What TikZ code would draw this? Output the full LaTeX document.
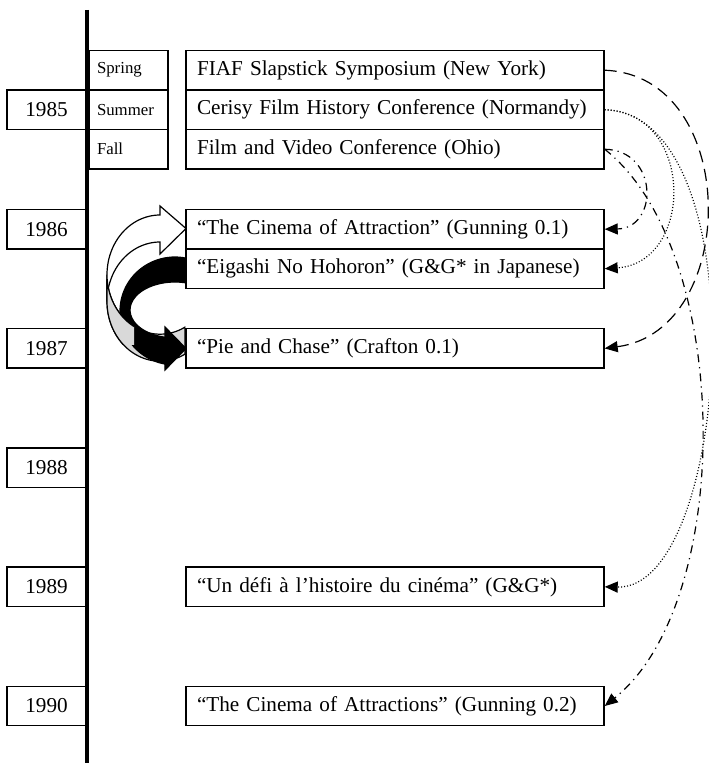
\documentclass[tikz,border=0pt]{standalone}
\usepackage{fontspec}
\setmainfont{Liberation Serif}
\usetikzlibrary{arrows.meta}

\begin{document}
\begin{tikzpicture}[x=0.5pt, y=-0.5pt, >={Triangle[length=6.5pt,width=5.5pt]},
    yearbox/.style={draw, line width=0.7pt, minimum width=39.5pt, minimum height=19.75pt, inner sep=0pt, font=\fontsize{10.6}{12}\selectfont},
    seasonbox/.style={draw, line width=0.7pt, minimum height=19.75pt, inner xsep=4pt, inner ysep=0pt, text width=31.5pt, align=left, font=\fontsize{8.4}{10}\selectfont},
    eventbox/.style={draw, line width=0.7pt, minimum height=19.75pt, inner xsep=5.5pt, inner ysep=0pt, text width=198pt, align=left, font=\fontsize{10.6}{12}\selectfont},
    linkdash/.style={line width=0.6pt, ->, dash pattern=on 6pt off 3.5pt},
    linkdot/.style={line width=0.6pt, ->, dash pattern=on 0.5pt off 1pt},
    linkdashdot/.style={line width=0.6pt, ->, dash pattern=on 4pt off 2.5pt on 0.6pt off 2.5pt}]
    \useasboundingbox (0,0) rectangle (708,763);

    % Time axis
    \draw[line width=2pt] (87,10) -- (87,763);

    % Years
    \node[yearbox] (y85) at (46.5,109.75) {1985};
    \node[yearbox] (y86) at (46.5,229.2) {1986};
    \node[yearbox] (y87) at (46.5,348.4) {1987};
    \node[yearbox] (y88) at (46.5,467.6) {1988};
    \node[yearbox] (y89) at (46.5,586.8) {1989};
    \node[yearbox] (y90) at (46.5,706) {1990};

    % Seasons of 1985
    \node[seasonbox] (spring) at (128.5,70.25) {Spring};
    \node[seasonbox] (summer) at (128.5,109.75) {Summer};
    \node[seasonbox] (fall) at (128.5,149.25) {Fall};

    % Curved arrows, back side of the white one
    \filldraw[fill=gray!30, line width=0.6pt]
        plot[domain=180:298, smooth, variable=\t] ({160+53*cos(\t)},{274.6-59.6*sin(\t)})
        -- plot[domain=298:180, smooth, variable=\t] ({160+53*cos(\t)},{301.6-59.6*sin(\t)}) -- cycle;
    % white front
    \filldraw[fill=white, line width=0.6pt]
        plot[domain=180:90, smooth, variable=\t] ({160+53*cos(\t)},{274.6-59.6*sin(\t)})
        -- (160,206) -- (186,228.5) -- (160,254)
        -- plot[domain=90:180, smooth, variable=\t] ({160+53*cos(\t)},{301.6-59.6*sin(\t)}) -- cycle;
    % black arrow
    \filldraw[fill=black, line width=0.6pt]
        plot[domain=78.46:259.5, smooth, variable=\t] ({175+55*cos(\t)},{311-54*sin(\t)})
        -- (165,370) -- (186,348.5) -- (165,327)
        -- plot[domain=257.16:75.9, smooth, variable=\t] ({175+45*cos(\t)},{310-28*sin(\t)}) -- cycle;
    \begin{scope}
        \clip (100,280) rectangle (134,345);
        \filldraw[fill=gray!30, line width=0.6pt]
            plot[domain=180:298, smooth, variable=\t] ({160+53*cos(\t)},{274.6-59.6*sin(\t)})
            -- plot[domain=298:180, smooth, variable=\t] ({160+53*cos(\t)},{301.6-59.6*sin(\t)}) -- cycle;
    \end{scope}

    % Events
    \node[eventbox] (fiaf) at (395,70.25) {FIAF Slapstick Symposium (New York)};
    \node[eventbox] (cerisy) at (395,109.75) {Cerisy Film History Conference (Normandy)};
    \node[eventbox] (ohio) at (395,149.25) {Film and Video Conference (Ohio)};
    \node[eventbox] (attr) at (395,229.2) {“The Cinema of Attraction” (Gunning 0.1)};
    \node[eventbox] (eigashi) at (395,268.7) {“Eigashi No Hohoron” (G\&G* in Japanese)};
    \node[eventbox] (pie) at (395,348.4) {“Pie and Chase” (Crafton 0.1)};
    \node[eventbox] (defi) at (395,586.8) {“Un défi à l’histoire du cinéma” (G\&G*)};
    \node[eventbox] (attrs) at (395,706) {“The Cinema of Attractions” (Gunning 0.2)};

    % Links
    \draw[linkdash] (fiaf.east) .. controls +(136,5) and +(136,-18) .. (pie.east);
    \draw[linkdot] (cerisy.east) .. controls +(90,2) and +(90,-6) .. (eigashi.east);
    \draw[linkdot] (cerisy.east) .. controls +(156,5) and +(126,3) .. (defi.east);
    \draw[linkdashdot] (ohio.east) .. controls +(54,1) and +(54,-1) .. (attr.east);
    \draw[linkdashdot] (ohio.east) .. controls +(128,101) and +(131,-105) .. (attrs.east);

\end{tikzpicture}
\end{document}
